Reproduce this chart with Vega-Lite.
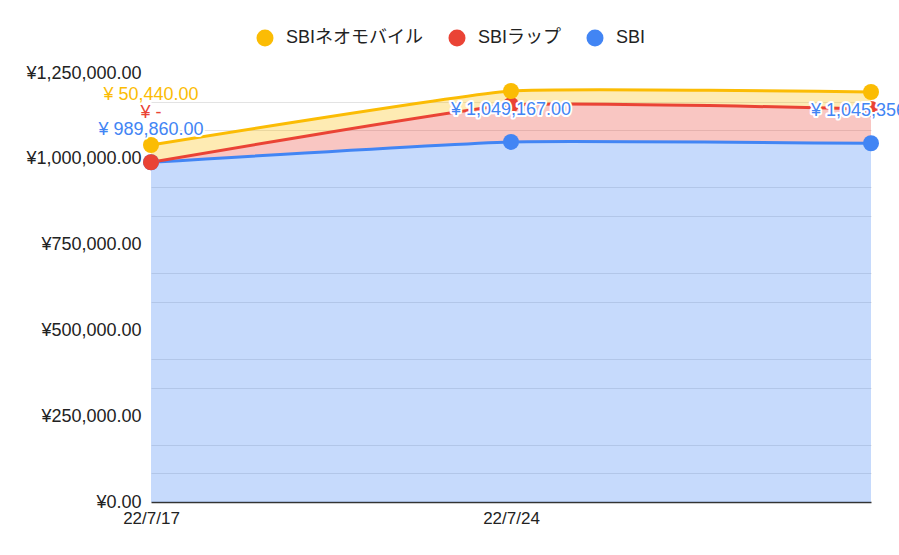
{
  "$schema": "https://vega.github.io/schema/vega-lite/v6.json",
  "autosize": {"type": "none"},
  "width": 720,
  "height": 429,
  "padding": {"left": 151, "top": 73, "right": 28, "bottom": 53},
  "config": {
    "view": {"stroke": null},
    "font": "Liberation Sans, Arial, Noto Sans CJK JP",
    "locale": {
      "number": {
        "decimal": ".",
        "thousands": ",",
        "grouping": [3],
        "currency": ["¥ ", ""]
      }
    }
  },
  "data": {
    "values": [
      {"date": "22/7/17", "series": "SBI", "value": 989860},
      {"date": "22/7/17", "series": "SBIラップ", "value": 0},
      {"date": "22/7/17", "series": "SBIネオモバイル", "value": 50440},
      {"date": "22/7/24", "series": "SBI", "value": 1049167},
      {"date": "22/7/24", "series": "SBIラップ", "value": 108000},
      {"date": "22/7/24", "series": "SBIネオモバイル", "value": 40400},
      {"date": "22/7/31", "series": "SBI", "value": 1045356},
      {"date": "22/7/31", "series": "SBIラップ", "value": 99750},
      {"date": "22/7/31", "series": "SBIネオモバイル", "value": 49530}
    ]
  },
  "transform": [
    {"stack": "value", "groupby": ["date"], "as": ["v0", "v1"]}
  ],
  "encoding": {
    "x": {
      "field": "date",
      "type": "ordinal",
      "scale": {"type": "point", "padding": 0},
      "axis": {
        "title": null,
        "values": ["22/7/17", "22/7/24"],
        "labelAngle": 0,
        "labelFontSize": 17,
        "labelColor": "#222222",
        "labelPadding": 8,
        "ticks": false,
        "grid": false,
        "domainColor": "#333333",
        "domainWidth": 1.5
      }
    },
    "color": {
      "field": "series",
      "type": "nominal",
      "scale": {
        "domain": ["SBIネオモバイル", "SBIラップ", "SBI"],
        "range": ["#fbbc04", "#ea4335", "#4285f4"]
      },
      "legend": {
        "title": null,
        "orient": "none",
        "direction": "horizontal",
        "legendX": 105,
        "legendY": -44,
        "padding": 0,
        "symbolType": "circle",
        "symbolSize": 289,
        "symbolOpacity": 1,
        "symbolStrokeWidth": 0,
        "labelFontSize": 18,
        "labelColor": "#222222",
        "labelOffset": 12,
        "columnPadding": 24
      }
    }
  },
  "layer": [
    {
      "mark": {"type": "area", "interpolate": "cardinal", "tension": 0.6, "fillOpacity": 0.3},
      "encoding": {
        "y": {
          "field": "v1",
          "type": "quantitative",
          "scale": {"domain": [0, 1250000], "nice": false},
          "axis": {
            "orient": "right",
            "title": null,
            "labels": false,
            "ticks": false,
            "domain": false,
            "gridColor": "#e3e3e3",
            "values": [83333.33, 166666.67, 333333.33, 416666.67, 583333.33, 666666.67, 833333.33, 916666.67, 1083333.33, 1166666.67]
          }
        },
        "y2": {"field": "v0"}
      }
    },
    {
      "mark": {"type": "line", "interpolate": "cardinal", "tension": 0.6, "strokeWidth": 3},
      "encoding": {
        "y": {
          "field": "v1",
          "type": "quantitative",
          "axis": {
            "title": null,
            "values": [0, 250000, 500000, 750000, 1000000, 1250000],
            "labelExpr": "'¥' + format(datum.value, ',.2f')",
            "labelFontSize": 18,
            "labelColor": "#222222",
            "labelPadding": 10,
            "ticks": false,
            "domain": false,
            "gridColor": "#c4c4c4"
          }
        }
      }
    },
    {
      "mark": {"type": "point", "filled": true, "size": 256, "opacity": 1},
      "encoding": {
        "y": {"field": "v1", "type": "quantitative", "axis": null}
      }
    },
    {
      "transform": [{"filter": {"field": "series", "equal": "SBI"}}],
      "mark": {"type": "text", "dy": -32, "fontSize": 18, "stroke": "white", "strokeWidth": 4, "strokeJoin": "round"},
      "encoding": {
        "y": {"field": "v1", "type": "quantitative", "axis": null},
        "text": {"field": "value", "type": "quantitative", "format": "$,.2f"},
        "color": {"value": "white"}
      }
    },
    {
      "transform": [{"filter": {"field": "series", "equal": "SBI"}}],
      "mark": {"type": "text", "dy": -32, "fontSize": 18},
      "encoding": {
        "y": {"field": "v1", "type": "quantitative", "axis": null},
        "text": {"field": "value", "type": "quantitative", "format": "$,.2f"},
        "color": {"value": "#4285f4"}
      }
    },
    {
      "transform": [{"filter": {"and": [{"field": "series", "equal": "SBIラップ"}, {"field": "date", "equal": "22/7/17"}]}}],
      "mark": {"type": "text", "dy": -49, "fontSize": 18},
      "encoding": {
        "y": {"field": "v1", "type": "quantitative", "axis": null},
        "text": {"value": "¥ -"},
        "color": {"value": "#ea4335"}
      }
    },
    {
      "transform": [{"filter": {"and": [{"field": "series", "equal": "SBIネオモバイル"}, {"field": "date", "equal": "22/7/17"}]}}],
      "mark": {"type": "text", "dy": -50, "fontSize": 18},
      "encoding": {
        "y": {"field": "v1", "type": "quantitative", "axis": null},
        "text": {"field": "value", "type": "quantitative", "format": "$,.2f"},
        "color": {"value": "#fbbc04"}
      }
    }
  ],
  "resolve": {"axis": {"y": "independent"}}
}
